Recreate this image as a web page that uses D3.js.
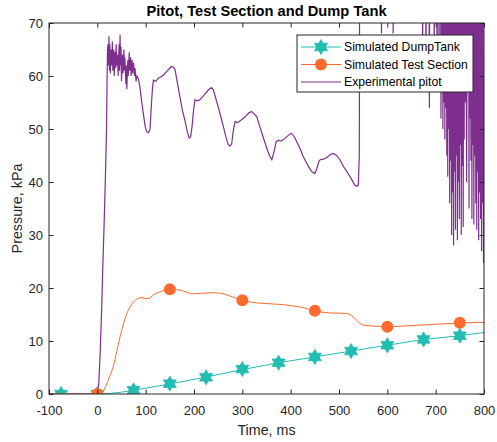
<!DOCTYPE html>
<html>
<head>
<meta charset="utf-8">
<script src="https://cdn.jsdelivr.net/npm/d3@7"></script>
<style>
    body { margin: 0; background: #fff; }
    svg { display: block; font-family: "Liberation Sans", Arial, sans-serif; }
</style>
</head>
<body>
<svg id="chart" width="497" height="442"></svg>
<script>
// ---- data ----
var xTicks = [-100, 0, 100, 200, 300, 400, 500, 600, 700, 800]
var yTicks = [0, 10, 20, 30, 40, 50, 60, 70]

// dump tank: line + hexagram markers
var dumpT = [-75, 0, 25, 50, 75, 100, 150, 225, 300, 375, 450, 525, 600, 675, 750, 800]
var dumpP = [0, 0, 0.1, 0.35, 0.7, 1.1, 1.9, 3.2, 4.6, 5.9, 7.0, 8.1, 9.2, 10.3, 11.0, 11.6]
var dumpMarkT = [-75, 0, 75, 150, 225, 300, 375, 450, 525, 600, 675, 750]
var dumpMarkP = [0, 0, 0.7, 1.95, 3.15, 4.7, 5.9, 7.0, 8.1, 9.2, 10.3, 11.0]

// test section: smooth line + circle markers
var tsT = [-100, 0, 8, 15, 25, 33, 40, 47, 54, 61, 68, 75, 84, 92, 100, 106, 116, 130, 150, 171, 185, 195, 215, 240, 261, 280, 300, 320, 343, 378, 399, 425, 450, 480, 516, 530, 540, 550, 575, 598, 630, 668, 710, 750, 800]
var tsP = [0, 0, 0, 1.0, 3.2, 5.2, 8.0, 10.8, 13.2, 15.2, 16.5, 17.4, 18.0, 18.2, 18.0, 18.0, 18.7, 19.3, 19.75, 19.6, 19.2, 18.9, 19.0, 19.1, 18.9, 18.3, 17.7, 17.3, 17.1, 16.9, 16.7, 16.3, 15.7, 15.3, 15.2, 14.5, 13.6, 13.0, 12.8, 12.7, 12.8, 13.0, 13.2, 13.4, 13.5]
var tsMarkT = [0, 150, 300, 450, 600, 750]
var tsMarkP = [0, 19.75, 17.7, 15.7, 12.7, 13.45]

// experimental pitot [t, p]
var pitot = [
    [-100, 0], [0, 0], [3, 2], [6, 8], [9, 16], [11, 23], [14, 32], [17, 42], [19, 50], [20, 58], [21, 65],
    [22, 66], [23, 62], [24, 67.5], [25, 61], [26, 66], [27, 60.5], [28, 65], [30, 62], [31, 66.5], [32, 61],
    [34, 65], [35, 60], [36, 64.5], [38, 61.5], [39, 66], [40, 62], [42, 64], [43, 60], [45, 66], [46, 61],
    [47, 67.8], [48, 62], [49, 65.5], [50, 59], [52, 64], [53, 60.5], [55, 65], [56, 61], [57, 63.5], [59, 58.5],
    [60, 62], [61, 57.5], [63, 63], [64, 60], [66, 64.5], [67, 61], [69, 63.5], [70, 60], [72, 63], [73, 60.5],
    [75, 62.5], [77, 60], [78, 61.5], [80, 59], [82, 60],
    [85, 59.5], [88, 58], [92, 55], [95, 53], [99, 50.5], [102, 49.5], [106, 49.3], [109, 50], [112, 54.8],
    [114, 57.5], [116, 59.2], [121, 59], [126, 59.6], [131, 59.8], [137, 60.2], [145, 61], [150, 61.5], [154, 61.8],
    [158, 61.6], [161, 61.1], [166, 58.5], [171, 56], [176, 53.5], [181, 51.7], [186, 49.5], [190, 48.3], [193, 48.5],
    [196, 50.5], [199, 53.5], [202, 55.5], [207, 55.3], [212, 55.5], [220, 56.3], [230, 57.4], [236, 57.8], [240, 57.4],
    [245, 55.8], [250, 54.2], [255, 52.5], [261, 50.4], [266, 48.5], [271, 47], [275, 46.8], [278, 47.2], [281, 49.5],
    [285, 51.4], [290, 51.2], [295, 51.5], [305, 52.2], [313, 53], [319, 53.3], [325, 52.8], [330, 52.3], [337, 50.2],
    [343, 48.5], [350, 46.5], [356, 45], [361, 44.2], [365, 45.5], [370, 47.6], [375, 47.9], [380, 47.7], [385, 48],
    [395, 48.8], [402, 49.2], [408, 48.5], [413, 47.5], [419, 46.4], [425, 45], [431, 43.9], [437, 42.9], [443, 42],
    [450, 41.6], [454, 42.5], [458, 43.8], [461, 44.2], [468, 44.3], [475, 44.6], [482, 45.2], [488, 45.4], [495, 45],
    [502, 44.2], [510, 42.8], [519, 41.6], [526, 40.5], [533, 39.4], [537, 39.2], [540, 39.5], [542, 45], [543, 95],
    [560, 95], [587, 90], [588, 68], [589, 92], [611, 90], [612, 68], [613, 95], [650, 95],
    [672, 92], [673, 62], [674, 92], [679, 90], [680, 60], [681, 93], [686, 90], [687, 54], [688, 92],
    [696, 90], [697, 63], [698, 92], [702, 90], [703, 58], [704, 91], [706, 90], [707, 60], [708, 92],
    [710, 90], [711, 52], [712, 90], [713, 58], [714, 92], [715, 50],
    [716, 88], [717, 55], [718, 90], [719, 48], [720, 93], [721, 54], [722, 88], [723, 45], [724, 90], [725, 41],
    [726, 92], [727, 50], [728, 89], [729, 36], [730, 91], [731, 44], [732, 88], [733, 30], [734, 92], [735, 38],
    [736, 90], [737, 28], [738, 93], [739, 42], [740, 88], [741, 31], [742, 91], [743, 45], [744, 87], [745, 29],
    [746, 92], [747, 40], [748, 90], [749, 33], [750, 89], [751, 47], [752, 92], [753, 30], [754, 88], [755, 43],
    [756, 91], [757, 31.5], [758, 90], [759, 48], [760, 93], [761, 55], [762, 89], [764, 40], [766, 92], [767, 58],
    [768, 88], [769, 35], [770, 91], [771, 52], [772, 90], [773, 44], [774, 93], [775, 33], [776, 88], [777, 47],
    [778, 91], [779, 32], [780, 90], [781, 45], [782, 92], [783, 36], [784, 88], [785, 31], [786, 93], [787, 42],
    [788, 89], [789, 29], [790, 91], [791, 38], [792, 88], [793, 33], [794, 92], [795, 27], [796, 90], [797, 36],
    [798, 88], [799, 24.7], [800, 60]
]

var legendNames = ['Simulated DumpTank', 'Simulated Test Section', 'Experimental pitot']
var colors = { dump: '#22bcb1', ts: '#ff6a2e', pitot: '#7e2f8e' }
var ink = '#262626'

// ---- layout ----
var svg = d3.select('#chart')
var box = { left: 49, right: 484, top: 23, bottom: 394 }

var x = d3.scaleLinear().domain([-100, 800]).range([box.left, box.right])
var y = d3.scaleLinear().domain([0, 70]).range([box.bottom, box.top])

svg.append('defs').append('clipPath').attr('id', 'plotclip')
    .append('rect')
    .attr('x', box.left).attr('y', box.top)
    .attr('width', box.right - box.left).attr('height', box.bottom - box.top)

var plot = svg.append('g').attr('clip-path', 'url(#plotclip)')

// pitot trace
var pline = d3.line().x(d => x(d[0])).y(d => y(d[1]))
plot.append('path')
    .attr('d', pline(pitot))
    .attr('fill', 'none')
    .attr('stroke', colors.pitot)
    .attr('stroke-width', 1.2)

// dump tank
var dline = d3.line().x((d, i) => x(dumpT[i])).y(d => y(d))
plot.append('path')
    .attr('d', dline(dumpP))
    .attr('fill', 'none')
    .attr('stroke', colors.dump)
    .attr('stroke-width', 1)

function hexagram(r) {
    var pts = []
    for (let k = 0; k < 12; k++) {
        var a = -Math.PI / 2 + k * Math.PI / 6
        var rr = k % 2 == 0 ? r : r / Math.sqrt(3)
        pts.push([rr * Math.cos(a), rr * Math.sin(a)])
    }
    return 'M' + pts.map(p => p[0].toFixed(2) + ',' + p[1].toFixed(2)).join('L') + 'Z'
}

plot.selectAll('.star')
    .data(dumpMarkP)
    .enter().append('path')
    .attr('class', 'star')
    .attr('d', hexagram(7.5))
    .attr('transform', (d, i) => 'translate(' + x(dumpMarkT[i]) + ',' + y(d) + ')')
    .attr('fill', colors.dump)
    .attr('stroke', colors.dump)
    .attr('stroke-width', 0.8)

// test section
var tline = d3.line().x((d, i) => x(tsT[i])).y(d => y(d)).curve(d3.curveMonotoneX)
plot.append('path')
    .attr('d', tline(tsP))
    .attr('fill', 'none')
    .attr('stroke', colors.ts)
    .attr('stroke-width', 1)

plot.selectAll('.dot')
    .data(tsMarkP)
    .enter().append('circle')
    .attr('class', 'dot')
    .attr('cx', (d, i) => x(tsMarkT[i]))
    .attr('cy', d => y(d))
    .attr('r', 6)
    .attr('fill', colors.ts)

// ---- axes ----
function styleAxis(g) {
    g.select('.domain').remove()
    g.selectAll('line').attr('stroke', ink).attr('stroke-width', 1)
    g.selectAll('text').attr('fill', ink).attr('font-size', '13px')
        .attr('font-family', '"Liberation Sans", Arial, sans-serif')
}

var plainNum = d => String(d)

svg.append('g')
    .attr('transform', 'translate(0,' + box.bottom + ')')
    .call(d3.axisBottom(x).tickValues(xTicks).tickFormat(plainNum).tickSizeInner(-4.5).tickSizeOuter(0).tickPadding(12))
    .call(styleAxis)
svg.append('g')
    .attr('transform', 'translate(0,' + box.top + ')')
    .call(d3.axisTop(x).tickValues(xTicks).tickFormat('').tickSizeInner(-4.5).tickSizeOuter(0))
    .call(styleAxis)
svg.append('g')
    .attr('transform', 'translate(' + box.left + ',0)')
    .call(d3.axisLeft(y).tickValues(yTicks).tickFormat(plainNum).tickSizeInner(-4.5).tickSizeOuter(0).tickPadding(6))
    .call(styleAxis)
svg.append('g')
    .attr('transform', 'translate(' + box.right + ',0)')
    .call(d3.axisRight(y).tickValues(yTicks).tickFormat('').tickSizeInner(-4.5).tickSizeOuter(0))
    .call(styleAxis)

svg.append('rect')
    .attr('x', box.left).attr('y', box.top)
    .attr('width', box.right - box.left).attr('height', box.bottom - box.top)
    .attr('fill', 'none').attr('stroke', ink).attr('stroke-width', 1)

// titles
svg.append('text')
    .attr('x', (box.left + box.right) / 2).attr('y', 15.7)
    .attr('text-anchor', 'middle')
    .attr('font-size', '14.7px').attr('font-weight', 'bold')
    .attr('fill', '#000')
    .text('Pitot, Test Section and Dump Tank')
svg.append('text')
    .attr('x', (box.left + box.right) / 2).attr('y', 435)
    .attr('text-anchor', 'middle')
    .attr('font-size', '14.3px').attr('fill', ink)
    .text('Time, ms')
svg.append('text')
    .attr('transform', 'translate(22,' + (box.top + box.bottom) / 2 + ') rotate(-90)')
    .attr('text-anchor', 'middle')
    .attr('font-size', '14.3px').attr('fill', ink)
    .text('Pressure, kPa')

// ---- legend ----
var leg = svg.append('g')
leg.append('rect')
    .attr('x', 297).attr('y', 35).attr('width', 176).attr('height', 57)
    .attr('fill', '#fff').attr('stroke', ink).attr('stroke-width', 1)

var legRows = [47, 64.5, 82]
var legColors = [colors.dump, colors.ts, colors.pitot]
legendNames.forEach((name, i) => {
    var ly = legRows[i]
    leg.append('line')
        .attr('x1', 301).attr('x2', 341).attr('y1', ly).attr('y2', ly)
        .attr('stroke', legColors[i]).attr('stroke-width', 1)
    if (i == 0) {
        leg.append('path').attr('d', hexagram(7.5))
            .attr('transform', 'translate(321,' + ly + ')')
            .attr('fill', colors.dump).attr('stroke', colors.dump).attr('stroke-width', 0.8)
    } else if (i == 1) {
        leg.append('circle').attr('cx', 321).attr('cy', ly).attr('r', 6).attr('fill', colors.ts)
    }
    leg.append('text')
        .attr('x', 344).attr('y', ly + 4.3)
        .attr('font-size', '12.2px').attr('fill', '#000')
        .text(name)
})
</script>
</body>
</html>
